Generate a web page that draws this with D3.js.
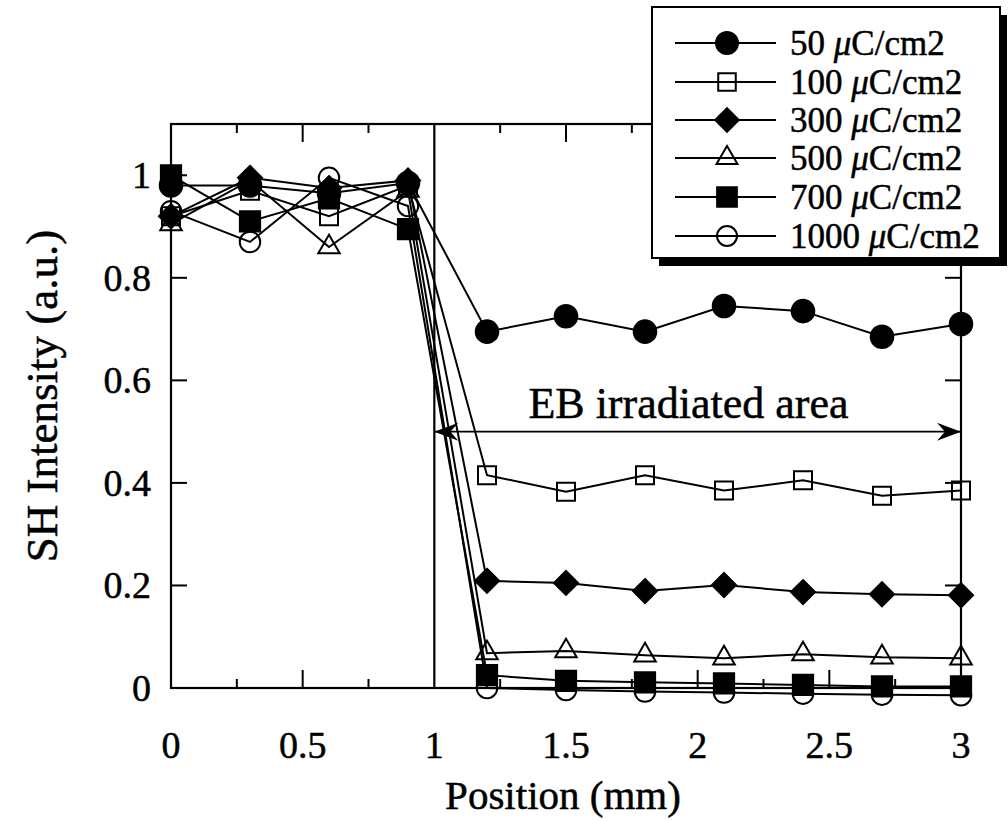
<!DOCTYPE html>
<html>
<head>
<meta charset="utf-8">
<script src="https://cdn.jsdelivr.net/npm/d3@7"></script>
<style>
  html, body { margin: 0; padding: 0; background: #fff; }
  svg { display: block; }
  text { stroke: #000; stroke-width: 0.5px; }
</style>
</head>
<body>
<div id="chart"></div>
<script>
// ---- data ----
const positions = [0, 0.3, 0.6, 0.9, 1.2, 1.5, 1.8, 2.1, 2.4, 2.7, 3.0];
const dose50   = [0.98, 0.98, 0.965, 0.985, 0.695, 0.725, 0.695, 0.745, 0.735, 0.685, 0.71];
const dose100  = [0.92, 0.97, 0.92, 0.98, 0.415, 0.383, 0.415, 0.385, 0.405, 0.375, 0.385];
const dose300  = [0.92, 0.995, 0.975, 0.99, 0.209, 0.205, 0.189, 0.201, 0.187, 0.183, 0.181];
const dose500  = [0.905, 0.99, 0.86, 0.97, 0.068, 0.072, 0.064, 0.058, 0.066, 0.06, 0.058];
const dose700  = [1.0, 0.91, 0.955, 0.895, 0.025, 0.014, 0.011, 0.009, 0.006, 0.003, 0.003];
const dose1000 = [0.93, 0.87, 0.995, 0.94, 0.0, -0.004, -0.007, -0.009, -0.011, -0.013, -0.014];
const seriesNames = ["50", "100", "300", "500", "700", "1000"];
const seriesValues = [dose50, dose100, dose300, dose500, dose700, dose1000];
const xTickLabels = [0, 0.5, 1, 1.5, 2, 2.5, 3];
const yTickLabels = [0, 0.2, 0.4, 0.6, 0.8, 1];
const xTitle = "Position (mm)";
const yTitle = "SH Intensity (a.u.)";
const annotation = "EB irradiated area";

// ---- layout ----
const W = 1008, H = 821;
const x = d3.scaleLinear().domain([0, 3]).range([171, 961]);
const y = d3.scaleLinear().domain([0, 1.1]).range([688, 124]);
const serif = "'Liberation Serif', 'Times New Roman', serif";

const svg = d3.select("#chart").append("svg").attr("width", W).attr("height", H)
  .style("background", "#fff");

// marker styles
const markerDefs = {
  "50":   { type: d3.symbolCircle,   size: 400, fill: "#000" },
  "100":  { type: d3.symbolSquare,   size: 324, fill: "none" },
  "300":  { type: d3.symbolDiamond2, size: 370, fill: "#000" },
  "500":  { type: d3.symbolTriangle, size: 200, fill: "none" },
  "700":  { type: d3.symbolSquare,   size: 410, fill: "#000" },
  "1000": { type: d3.symbolCircle,   size: 330, fill: "none" }
};

// ---- frame ----
const frame = svg.append("g").attr("stroke", "#000").attr("stroke-width", 2.2).attr("fill", "none");
frame.append("rect").attr("x", x(0)).attr("y", y(1.1))
  .attr("width", x(3) - x(0)).attr("height", y(0) - y(1.1));
frame.append("line").attr("x1", x(1)).attr("x2", x(1)).attr("y1", y(1.1)).attr("y2", y(0));

// ticks (inward)
const tickG = svg.append("g").attr("stroke", "#000").attr("stroke-width", 2);
const xMajor = [0.5, 1.5, 2, 2.5];
const xMinor = [0.25, 0.75, 1.25, 1.75, 2.25, 2.75];
xMajor.forEach(v => {
  tickG.append("line").attr("x1", x(v)).attr("x2", x(v)).attr("y1", y(0)).attr("y2", y(0) - 18);
  tickG.append("line").attr("x1", x(v)).attr("x2", x(v)).attr("y1", y(1.1)).attr("y2", y(1.1) + 18);
});
xMinor.forEach(v => {
  tickG.append("line").attr("x1", x(v)).attr("x2", x(v)).attr("y1", y(0)).attr("y2", y(0) - 9);
  tickG.append("line").attr("x1", x(v)).attr("x2", x(v)).attr("y1", y(1.1)).attr("y2", y(1.1) + 9);
});
[0.2, 0.4, 0.6, 0.8, 1.0].forEach(v => {
  tickG.append("line").attr("x1", x(0)).attr("x2", x(0) + 16).attr("y1", y(v)).attr("y2", y(v));
  tickG.append("line").attr("x1", x(3)).attr("x2", x(3) - 16).attr("y1", y(v)).attr("y2", y(v));
});

// tick labels
svg.append("g").selectAll("text").data(xTickLabels).join("text")
  .attr("x", d => x(d)).attr("y", 758)
  .attr("text-anchor", "middle")
  .attr("font-family", serif).attr("font-size", 38)
  .text(d => d);
svg.append("g").selectAll("text").data(yTickLabels).join("text")
  .attr("x", 151).attr("y", d => y(d) + 13)
  .attr("text-anchor", "end")
  .attr("font-family", serif).attr("font-size", 38)
  .text(d => d);

// axis titles
svg.append("text").attr("x", 563).attr("y", 809)
  .attr("text-anchor", "middle").attr("font-family", serif).attr("font-size", 41)
  .text(xTitle);
svg.append("text").attr("transform", "translate(57,396) rotate(-90)")
  .attr("text-anchor", "middle").attr("font-family", serif).attr("font-size", 45)
  .text(yTitle);

// ---- annotation arrow ----
const arrowY = y(0.5);
const ann = svg.append("g");
ann.append("line").attr("x1", x(1)).attr("x2", x(3)).attr("y1", arrowY).attr("y2", arrowY)
  .attr("stroke", "#000").attr("stroke-width", 1.8);
function head(tipX, dir) {
  return `M${tipX},${arrowY} L${tipX + dir * 24},${arrowY - 9} L${tipX + dir * 16},${arrowY} L${tipX + dir * 24},${arrowY + 9} Z`;
}
ann.append("path").attr("d", head(x(1), 1)).attr("fill", "#000");
ann.append("path").attr("d", head(x(3), -1)).attr("fill", "#000");
ann.append("text").attr("x", x(1.965)).attr("y", y(0.526))
  .attr("text-anchor", "middle").attr("font-family", serif).attr("font-size", 44)
  .text(annotation);

// ---- series ----
const line = d3.line().x(d => x(d[0])).y(d => y(d[1]));
const plotG = svg.append("g");
seriesNames.forEach((name, i) => {
  const pts = positions.map((p, j) => [p, seriesValues[i][j]]);
  plotG.append("path").attr("d", line(pts))
    .attr("fill", "none").attr("stroke", "#000").attr("stroke-width", 2);
});
seriesNames.forEach((name, i) => {
  const m = markerDefs[name];
  const pts = positions.map((p, j) => [p, seriesValues[i][j]]);
  plotG.append("g").selectAll("path").data(pts).join("path")
    .attr("transform", d => `translate(${x(d[0])},${y(d[1])})`)
    .attr("d", d3.symbol().type(m.type).size(m.size))
    .attr("fill", m.fill).attr("stroke", "#000").attr("stroke-width", 2);
});

// ---- legend ----
const lg = svg.append("g");
const lx = 652, ly = 7, lw = 348, lh = 251;
lg.append("rect").attr("x", lx + 7).attr("y", ly + 8).attr("width", lw).attr("height", lh).attr("fill", "#000");
lg.append("rect").attr("x", lx).attr("y", ly).attr("width", lw).attr("height", lh)
  .attr("fill", "#fff").attr("stroke", "#000").attr("stroke-width", 2);
const rowY = [43, 82, 120, 158, 197, 236];
seriesNames.forEach((name, i) => {
  const m = markerDefs[name];
  const ry = rowY[i];
  lg.append("line").attr("x1", 675).attr("x2", 776).attr("y1", ry).attr("y2", ry)
    .attr("stroke", "#000").attr("stroke-width", 1.8);
  lg.append("path").attr("transform", `translate(727,${ry})`)
    .attr("d", d3.symbol().type(m.type).size(m.size * 0.95))
    .attr("fill", m.fill).attr("stroke", "#000").attr("stroke-width", 2);
  const t = lg.append("text").attr("x", 790).attr("y", ry + 12)
    .attr("font-family", serif).attr("font-size", 35);
  t.append("tspan").text(name + " ");
  t.append("tspan").attr("font-style", "italic").text("\u03bc");
  t.append("tspan").text("C/cm2");
});
</script>
</body>
</html>
